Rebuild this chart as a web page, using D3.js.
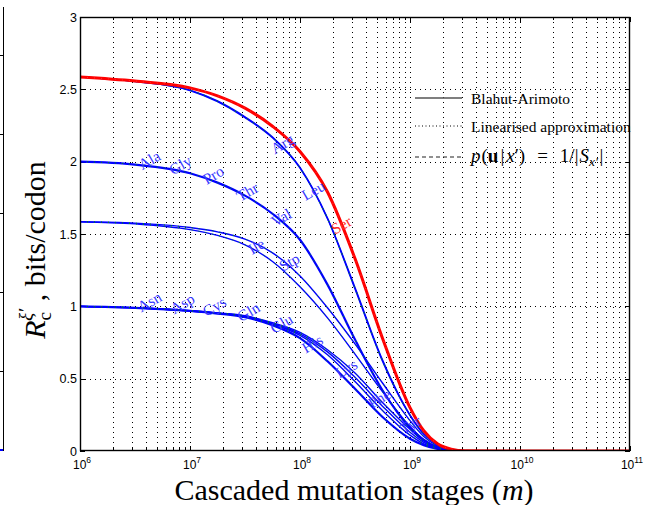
<!DOCTYPE html>
<html><head><meta charset="utf-8">
<script src="https://cdn.jsdelivr.net/npm/d3@7"></script>
<style>body{margin:0;background:#fff}svg{display:block}</style>
</head><body>
<svg id="c" width="646" height="505"></svg>
<script>
// ---- data ----
const logM = [6, 6.5, 7, 7.25, 7.5, 7.75, 8, 8.25, 8.5, 8.75, 9, 9.125, 9.25, 9.375, 9.5, 10, 11];
const serValues = [2.585, 2.557, 2.51, 2.455, 2.37, 2.245, 2.07, 1.79, 1.33, 0.78, 0.30, 0.14, 0.05, 0.013, 0.002, 0, 0];
const argValues = [2.585, 2.555, 2.495, 2.42, 2.31, 2.17, 1.96, 1.61, 1.13, 0.63, 0.25, 0.12, 0.045, 0.01, 0.001, 0, 0];
const leuValues = [2.585, 2.554, 2.492, 2.415, 2.305, 2.165, 1.955, 1.605, 1.12, 0.62, 0.245, 0.115, 0.042, 0.009, 0.001, 0, 0];
const fourValues = [2.0, 1.98, 1.92, 1.855, 1.765, 1.64, 1.46, 1.15, 0.77, 0.42, 0.16, 0.075, 0.025, 0.005, 0, 0, 0];
const stpValues = [1.585, 1.575, 1.545, 1.515, 1.465, 1.37, 1.21, 0.99, 0.74, 0.47, 0.21, 0.10, 0.035, 0.008, 0, 0, 0];
const ileValues = [1.585, 1.57, 1.53, 1.49, 1.425, 1.31, 1.135, 0.92, 0.67, 0.41, 0.17, 0.08, 0.027, 0.006, 0, 0, 0];
const twoValues = [1.0, 0.99, 0.968, 0.95, 0.925, 0.87, 0.78, 0.62, 0.43, 0.235, 0.085, 0.04, 0.014, 0.003, 0, 0, 0];
const lysValues = [1.0, 0.99, 0.968, 0.952, 0.93, 0.878, 0.80, 0.665, 0.48, 0.28, 0.11, 0.05, 0.018, 0.004, 0, 0, 0];
const pheValues = [1.0, 0.99, 0.969, 0.953, 0.932, 0.882, 0.81, 0.685, 0.51, 0.31, 0.13, 0.06, 0.02, 0.005, 0, 0, 0];
const tyrValues = [1.0, 0.99, 0.97, 0.955, 0.935, 0.887, 0.82, 0.70, 0.54, 0.335, 0.15, 0.07, 0.025, 0.006, 0, 0, 0];

const seriesNames = ["Arg", "Leu", "four", "Stp", "Ile", "two", "Lys", "Phe", "Tyr", "Ser"];
const seriesValues = [argValues, leuValues, fourValues, stpValues, ileValues, twoValues, lysValues, pheValues, tyrValues, serValues];

// curve labels: text, curve it sits on, log10(m) along that curve
const labelNames = ["Ala","Gly","Pro","Thr","Val","Arg","Leu","Ser","Ile","Stp","Asn","Asp","Cys","Gln","Glu","His","Lys","Phe","Tyr"];
const labelSeries = ["four","four","four","four","four","Arg","Leu","Ser","Ile","Stp","two","two","two","two","two","two","Lys","Phe","Tyr"];
const labelLogM = [6.655,6.936,7.236,7.545,7.855,7.864,8.145,8.4,7.627,7.927,6.655,6.955,7.245,7.555,7.855,8.136,8.445,8.745,9.027];

const yTicks = [0, 0.5, 1, 1.5, 2, 2.5, 3];
const xDecades = [6, 7, 8, 9, 10, 11];
const legendLabels = ["Blahut-Arimoto", "Linearised approximation"];

// ---- drawing ----
const svg = d3.select("#c");
const L = 80, R = 630, T = 17, B = 451;
const x = d3.scaleLog().domain([1e6, 1e11]).range([L, R]);
const y = d3.scaleLinear().domain([0, 3]).range([B, T]);

// left-edge remnant of neighbouring figure
svg.append("line").attr("x1",3.5).attr("x2",3.5).attr("y1",7).attr("y2",B).attr("stroke","#000").attr("stroke-width",1);
[55,134,213,292,371].forEach(v=>svg.append("line").attr("x1",0).attr("x2",3.5).attr("y1",v+0.5).attr("y2",v+0.5).attr("stroke","#000"));
svg.append("rect").attr("x",0).attr("y",449).attr("width",3).attr("height",2).attr("fill","#0000ff");

// grid
const minor = [];
for (let d = 6; d < 11; d++) for (let k = 1; k <= 9; k++) minor.push(k * Math.pow(10, d));
minor.push(1e11);
const g = svg.append("g");
minor.filter(v => v > 1e6 && v < 1e11).forEach(v => {
  const px = Math.round(x(v)) + 0.5;
  g.append("line").attr("x1", px).attr("x2", px).attr("y1", T).attr("y2", B)
    .attr("stroke", "#000").attr("stroke-width", 1).attr("stroke-dasharray", "1,4").attr("shape-rendering","crispEdges");
});
yTicks.filter(v => v > 0 && v < 3).forEach(v => {
  const py = Math.round(y(v)) + 0.5;
  g.append("line").attr("x1", L).attr("x2", R).attr("y1", py).attr("y2", py)
    .attr("stroke", "#000").attr("stroke-width", 1).attr("stroke-dasharray", "1,4").attr("shape-rendering","crispEdges");
});

// ticks
const tk = svg.append("g").attr("stroke","#000").attr("stroke-width",1).attr("shape-rendering","crispEdges");
minor.forEach(v => {
  const px = Math.round(x(v)) + 0.5;
  const major = xDecades.some(d => Math.abs(Math.log10(v) - d) < 1e-9);
  const len = major ? 5 : 3;
  tk.append("line").attr("x1",px).attr("x2",px).attr("y1",B).attr("y2",B-len);
  tk.append("line").attr("x1",px).attr("x2",px).attr("y1",T).attr("y2",T+len);
});
yTicks.forEach(v => {
  const py = Math.round(y(v)) + 0.5;
  tk.append("line").attr("x1",L).attr("x2",L+5).attr("y1",py).attr("y2",py);
  tk.append("line").attr("x1",R).attr("x2",R-5).attr("y1",py).attr("y2",py);
});

// curves
svg.append("clipPath").attr("id", "clp").append("rect").attr("x", L).attr("y", T-2).attr("width", R-L).attr("height", B-T+2);
const line = d3.line().x(d => x(Math.pow(10, d[0]))).y(d => y(d[1])).curve(d3.curveMonotoneX);
const cg = svg.append("g").attr("clip-path", "url(#clp)");
const seriesData = {};
seriesNames.forEach((n, i) => { seriesData[n] = logM.map((lm, j) => [lm, seriesValues[i][j]]); });
seriesNames.forEach((n) => {
  const isSer = n === "Ser";
  const thick = (n === "four" || n === "two");
  cg.append("path").attr("d", line(seriesData[n])).attr("fill","none")
    .attr("stroke", isSer ? "#ff0000" : "#0000ff").attr("stroke-width", isSer ? 3 : (thick ? 2.2 : 1.4));
  cg.append("path").attr("d", line(seriesData[n])).attr("fill","none")
    .attr("stroke", isSer ? "#ff3030" : "#00a000").attr("stroke-width", 1).attr("stroke-dasharray","1,6");
});

// labels along curves
function valAt(n, lm) {
  const d = seriesData[n];
  for (let j = 0; j < d.length - 1; j++) if (lm >= d[j][0] && lm <= d[j+1][0]) {
    const t = (lm - d[j][0]) / (d[j+1][0] - d[j][0]);
    return d[j][1] + t * (d[j+1][1] - d[j][1]);
  }
  return 0;
}
labelNames.forEach((name, i) => {
  const lm = labelLogM[i];
  const px = x(Math.pow(10, lm)), py = y(valAt(labelSeries[i], lm)) - 2.5;
  svg.append("text").attr("transform", `translate(${px},${py}) rotate(-30)`)
    .attr("text-anchor","middle").attr("font-family","'Liberation Serif', serif").attr("font-size", 15.5)
    .attr("fill", name === "Ser" ? "#ff2a2a" : "#3a3aff").text(name);
});

// axes box
svg.append("rect").attr("x", L+0.5).attr("y", T+0.5).attr("width", R-L-1).attr("height", B-T-1)
  .attr("fill","none").attr("stroke","#000").attr("stroke-width",1.4);

// tick labels
yTicks.forEach(v => {
  svg.append("text").attr("x", 77).attr("y", y(v) + 4.5).attr("text-anchor","end")
    .attr("font-family","'Liberation Sans', Arial, sans-serif").attr("font-size", 12.5).attr("fill","#000").text(String(v));
});
xDecades.forEach(d => {
  const t = svg.append("text").attr("x", x(Math.pow(10, d)) + 2).attr("y", 469).attr("text-anchor","middle")
    .attr("font-family","'Liberation Sans', Arial, sans-serif").attr("font-size", 12).attr("fill","#000");
  t.append("tspan").text("10");
  t.append("tspan").attr("dy", -6).attr("font-size", 8.5).text(String(d));
});

// axis titles
const xt = svg.append("text").attr("x", 354).attr("y", 500).attr("text-anchor","middle")
  .attr("font-family","'Liberation Serif', serif").attr("font-size", 30).attr("fill","#000");
xt.append("tspan").text("Cascaded mutation stages (");
xt.append("tspan").attr("font-style","italic").text("m");
xt.append("tspan").text(")");

const yt = svg.append("text").attr("transform","translate(45,250) rotate(-90)").attr("text-anchor","middle")
  .attr("font-family","'Liberation Serif', serif").attr("font-size", 30).attr("fill","#000");
yt.append("tspan").attr("font-style","italic").text("R");
yt.append("tspan").attr("dy", 6).attr("font-size", 19).text("c");
yt.append("tspan").attr("dy", -19).attr("dx", -9).attr("font-size", 19).attr("font-style","italic").text("ξ′");
yt.append("tspan").attr("dy", 13).text(" , bits/codon");

// legend (no box, grid shows through)
const lg = svg.append("g").attr("font-family","'Liberation Serif', serif").attr("font-size", 15.5).attr("fill","#000");
const rows = [98, 126, 157];
lg.append("line").attr("x1",415).attr("x2",462).attr("y1",rows[0]).attr("y2",rows[0]).attr("stroke","#555").attr("stroke-width",1.6);
lg.append("line").attr("x1",415).attr("x2",462).attr("y1",rows[1]).attr("y2",rows[1]).attr("stroke","#000").attr("stroke-width",1).attr("stroke-dasharray","1,2.5");
lg.append("line").attr("x1",415).attr("x2",462).attr("y1",rows[2]).attr("y2",rows[2]).attr("stroke","#222").attr("stroke-width",1.2).attr("stroke-dasharray","4,3");
lg.append("text").attr("x",471).attr("y",rows[0]+6).text(legendLabels[0]);
lg.append("text").attr("x",471).attr("y",rows[1]+6).text(legendLabels[1]);
const m = lg.append("text").attr("x",471).attr("y",rows[2]+5).attr("font-size",19);
m.append("tspan").attr("font-style","italic").text("p");
m.append("tspan").attr("dx",1).text("(");
m.append("tspan").attr("font-weight","bold").text("u");
m.append("tspan").attr("dx",2).text("|");
m.append("tspan").attr("dx",2).attr("font-style","italic").text("x");
m.append("tspan").text("′)");
m.append("tspan").attr("dx",12).text("=");
m.append("tspan").attr("dx",12).text("1/|");
m.append("tspan").attr("dx",1).attr("font-style","italic").text("S");
m.append("tspan").attr("dy",4).attr("font-size",13.5).attr("font-style","italic").text("x′");
m.append("tspan").attr("dy",-4).attr("dx",1.5).text("|");
</script>
</body></html>
